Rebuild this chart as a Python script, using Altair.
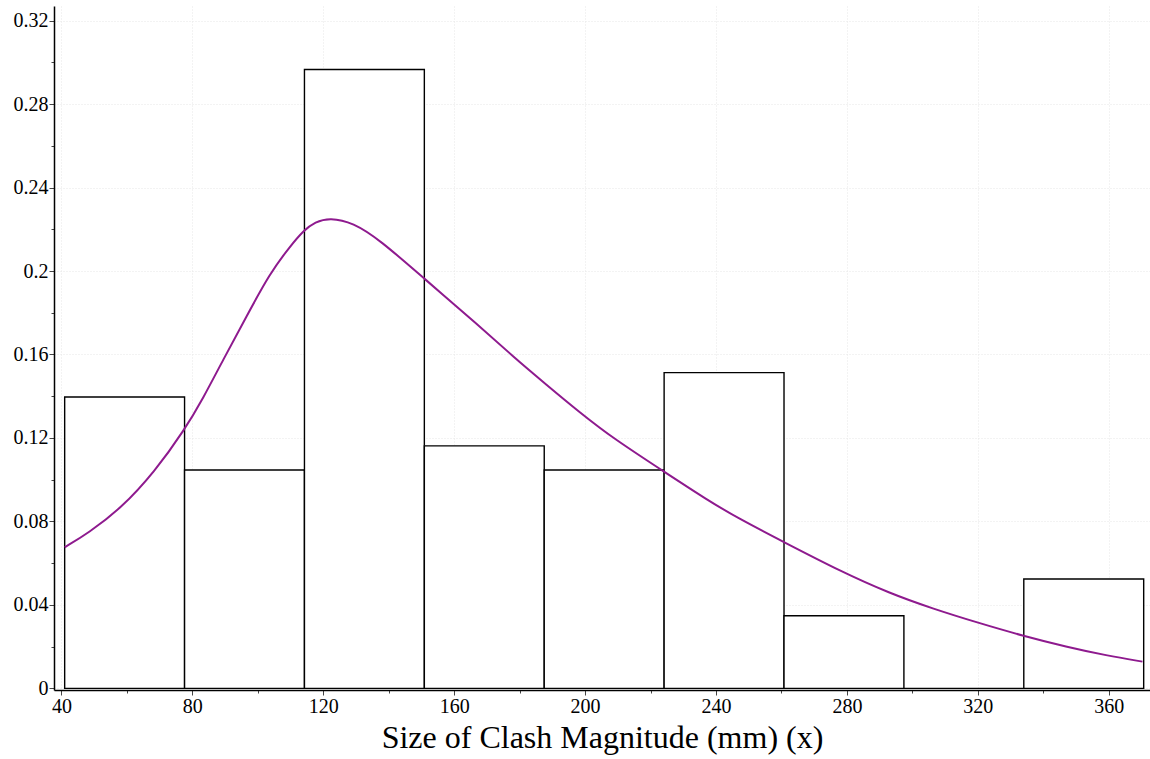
import altair as alt
import pandas as pd

# Histogram bins (mm) and relative frequencies
bin_start = [41.0, 77.63, 114.26, 150.89, 187.52, 224.15, 260.78, 297.41, 334.04]
bin_end = [77.63, 114.26, 150.89, 187.52, 224.15, 260.78, 297.41, 334.04, 370.67]
heights = [0.1396, 0.1046, 0.2966, 0.1162, 0.1046, 0.1513, 0.0348, 0.0, 0.0524]

# Fitted density curve (scaled)
curve_x = [41.0, 48.1, 58.3, 68.5, 77.6, 83.3, 89.4, 96.5, 103.7, 109.8, 114.1, 117.5,
           122.0, 129.1, 137.3, 150.6, 167.8, 178.0, 188.2, 198.4, 208.6, 223.9, 237.1,
           247.3, 260.5, 277.9, 293.1, 306.4, 320.1, 333.7, 347.1, 359.4, 370.3]
curve_y = [0.0676, 0.0743, 0.0863, 0.1038, 0.1238, 0.1390, 0.1574, 0.1781, 0.1989, 0.2117,
           0.2196, 0.2235, 0.2256, 0.2232, 0.2149, 0.1967, 0.1735, 0.1590, 0.1455, 0.1322,
           0.1198, 0.1041, 0.0905, 0.0810, 0.0703, 0.0562, 0.0455, 0.0381, 0.0314, 0.0252,
           0.0199, 0.0157, 0.0128]

x_ticks = list(range(40, 371, 10))          # majors every 40, minors every 10
y_ticks = [round(i * 0.01, 2) for i in range(0, 33)]  # majors every 0.04

FONT = "Liberation Serif"
X_DOMAIN = [37.74, 372.6]
Y_DOMAIN = [-0.0008, 0.327]

hist_df = pd.DataFrame({"start": bin_start, "end": bin_end, "h": heights})
curve_df = pd.DataFrame({"x": curve_x, "y": curve_y})

xscale = alt.Scale(domain=X_DOMAIN, nice=False, zero=False)
yscale = alt.Scale(domain=Y_DOMAIN, nice=False, zero=False)

x_major = "datum.value % 40 == 0"
y_major = "round(datum.value * 100) % 4 == 0"

x_axis = alt.Axis(
    values=x_ticks,
    labelExpr=f"{x_major} ? datum.label : ''",
    title="Size of Clash Magnitude (mm) (x)", titleFont=FONT, titleFontSize=32,
    titleFontWeight="normal", titleColor="black", titlePadding=6,
    labelFont=FONT, labelFontSize=20, labelColor="black", labelPadding=1,
    tickSize={"condition": {"test": x_major, "value": 5}, "value": 3},
    tickColor="#444", domainColor="black", domainWidth=1.5,
    grid=True, gridColor="#e6e6e6", gridDash=[1, 2],
    gridOpacity={"condition": {"test": x_major, "value": 1}, "value": 0},
    labelFlush=False, labelOverlap=False,
)
y_axis = alt.Axis(
    values=y_ticks,
    labelExpr=f"{y_major} ? format(datum.value, '.2~f') : ''",
    title=None, labelFont=FONT, labelFontSize=20, labelColor="black", labelPadding=1,
    tickSize={"condition": {"test": y_major, "value": 5}, "value": 3},
    tickColor="#444", domainColor="black", domainWidth=1.5,
    grid=True, gridColor="#e6e6e6", gridDash=[1, 2],
    gridOpacity={"condition": {"test": y_major, "value": 1}, "value": 0},
    labelFlush=False, labelOverlap=False,
)

bars = alt.Chart(hist_df).mark_rect(fill="white", stroke="black", strokeWidth=1.4).encode(
    x=alt.X("start:Q", scale=xscale, axis=x_axis),
    x2="end:Q",
    y=alt.Y("h:Q", scale=yscale, axis=y_axis),
    y2=alt.datum(0),
)

curve = alt.Chart(curve_df).mark_line(color="#8E1A8E", strokeWidth=2,
                                      interpolate="basis").encode(
    x=alt.X("x:Q", scale=xscale),
    y=alt.Y("y:Q", scale=yscale),
)

chart = alt.layer(bars, curve).properties(
    width=1096, height=684,
    autosize=alt.AutoSizeParams(type="none"),
    padding={"left": 54, "top": 6, "right": 0, "bottom": 69},
    background="white",
).configure_view(stroke=None)

chart.save("out.html", embed_options={"renderer": "svg", "actions": False})
